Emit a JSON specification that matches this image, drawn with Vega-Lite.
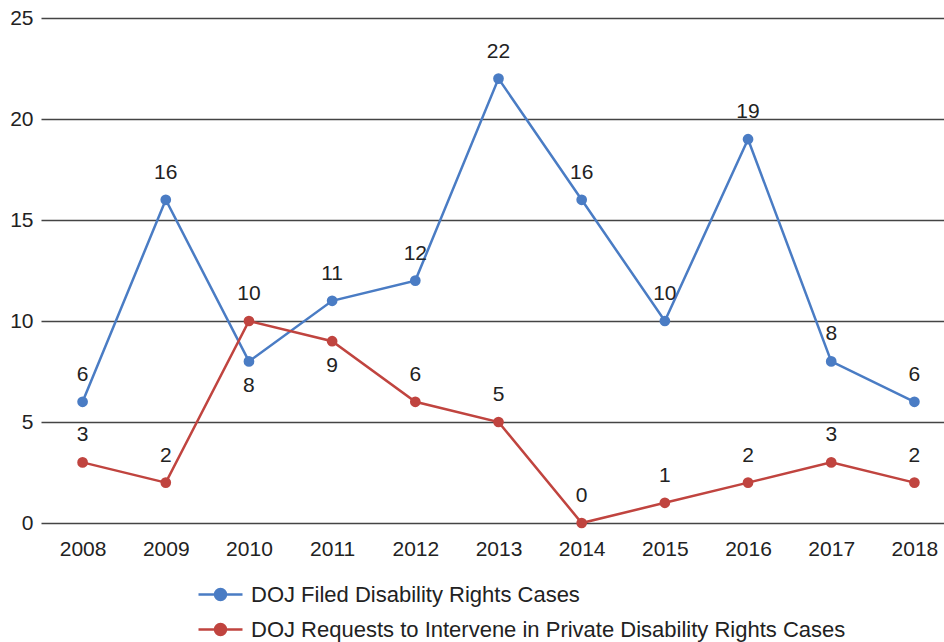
{
  "$schema": "https://vega.github.io/schema/vega-lite/v6.json",
  "width": 915,
  "height": 505,
  "autosize": {"type": "none"},
  "padding": {"left": 41, "top": 18, "right": 0, "bottom": 119},
  "background": "white",
  "config": {"view": {"stroke": null}, "font": "Liberation Sans"},
  "data": {
    "values": [
      {"year": 2008, "series": "DOJ Filed Disability Rights Cases", "value": 6},
      {"year": 2009, "series": "DOJ Filed Disability Rights Cases", "value": 16},
      {"year": 2010, "series": "DOJ Filed Disability Rights Cases", "value": 8},
      {"year": 2011, "series": "DOJ Filed Disability Rights Cases", "value": 11},
      {"year": 2012, "series": "DOJ Filed Disability Rights Cases", "value": 12},
      {"year": 2013, "series": "DOJ Filed Disability Rights Cases", "value": 22},
      {"year": 2014, "series": "DOJ Filed Disability Rights Cases", "value": 16},
      {"year": 2015, "series": "DOJ Filed Disability Rights Cases", "value": 10},
      {"year": 2016, "series": "DOJ Filed Disability Rights Cases", "value": 19},
      {"year": 2017, "series": "DOJ Filed Disability Rights Cases", "value": 8},
      {"year": 2018, "series": "DOJ Filed Disability Rights Cases", "value": 6},
      {"year": 2008, "series": "DOJ Requests to Intervene in Private Disability Rights Cases", "value": 3},
      {"year": 2009, "series": "DOJ Requests to Intervene in Private Disability Rights Cases", "value": 2},
      {"year": 2010, "series": "DOJ Requests to Intervene in Private Disability Rights Cases", "value": 10},
      {"year": 2011, "series": "DOJ Requests to Intervene in Private Disability Rights Cases", "value": 9},
      {"year": 2012, "series": "DOJ Requests to Intervene in Private Disability Rights Cases", "value": 6},
      {"year": 2013, "series": "DOJ Requests to Intervene in Private Disability Rights Cases", "value": 5},
      {"year": 2014, "series": "DOJ Requests to Intervene in Private Disability Rights Cases", "value": 0},
      {"year": 2015, "series": "DOJ Requests to Intervene in Private Disability Rights Cases", "value": 1},
      {"year": 2016, "series": "DOJ Requests to Intervene in Private Disability Rights Cases", "value": 2},
      {"year": 2017, "series": "DOJ Requests to Intervene in Private Disability Rights Cases", "value": 3},
      {"year": 2018, "series": "DOJ Requests to Intervene in Private Disability Rights Cases", "value": 2}
    ]
  },
  "encoding": {
    "x": {
      "field": "year",
      "type": "ordinal",
      "scale": {"type": "point", "padding": 0.5},
      "axis": {
        "title": null,
        "labelAngle": 0,
        "domain": false,
        "ticks": false,
        "grid": false,
        "labelFontSize": 21,
        "labelColor": "#222",
        "labelPadding": 15
      }
    },
    "y": {
      "field": "value",
      "type": "quantitative",
      "scale": {"domain": [0, 25], "nice": false},
      "axis": {
        "title": null,
        "values": [0, 5, 10, 15, 20, 25],
        "domain": false,
        "ticks": false,
        "grid": true,
        "gridColor": "#444",
        "gridWidth": 1.3,
        "gridOpacity": 1,
        "labelFontSize": 21,
        "labelColor": "#222",
        "labelPadding": 8
      }
    },
    "color": {
      "field": "series",
      "type": "nominal",
      "scale": {
        "domain": ["DOJ Filed Disability Rights Cases", "DOJ Requests to Intervene in Private Disability Rights Cases"],
        "range": ["#4a7cc4", "#c0443f"]
      },
      "legend": {
        "title": null,
        "orient": "none",
        "legendX": 156,
        "legendY": 553,
        "direction": "vertical",
        "labelFontSize": 22,
        "labelColor": "#222",
        "labelOffset": 7,
        "labelLimit": 0,
        "rowPadding": -9,
        "symbolType": "M-1,0H1M0.25,0A0.25,0.25 0 1,1 -0.25,0A0.25,0.25 0 1,1 0.25,0",
        "symbolSize": 1936,
        "symbolStrokeWidth": 2.5,
        "encode": {
          "symbols": {
            "update": {
              "fill": {"scale": "color", "field": "value"},
              "stroke": {"scale": "color", "field": "value"},
              "strokeWidth": {"value": 2.5},
              "opacity": {"value": 1},
              "fillOpacity": {"value": 1}
            }
          }
        }
      }
    }
  },
  "layer": [
    {"mark": {"type": "line", "strokeWidth": 2.5}},
    {"mark": {"type": "point", "filled": true, "size": 115, "opacity": 1}},
    {
      "transform": [
        {"filter": "!((datum.series === 'DOJ Filed Disability Rights Cases' && datum.year === 2010) || (datum.series === 'DOJ Requests to Intervene in Private Disability Rights Cases' && datum.year === 2011))"}
      ],
      "mark": {"type": "text", "dy": -27, "fontSize": 21, "baseline": "middle"},
      "encoding": {"text": {"field": "value", "type": "quantitative"}, "color": {"value": "#222"}}
    },
    {
      "transform": [
        {"filter": "(datum.series === 'DOJ Filed Disability Rights Cases' && datum.year === 2010) || (datum.series === 'DOJ Requests to Intervene in Private Disability Rights Cases' && datum.year === 2011)"}
      ],
      "mark": {"type": "text", "dy": 25, "fontSize": 21, "baseline": "middle"},
      "encoding": {"text": {"field": "value", "type": "quantitative"}, "color": {"value": "#222"}}
    }
  ]
}
